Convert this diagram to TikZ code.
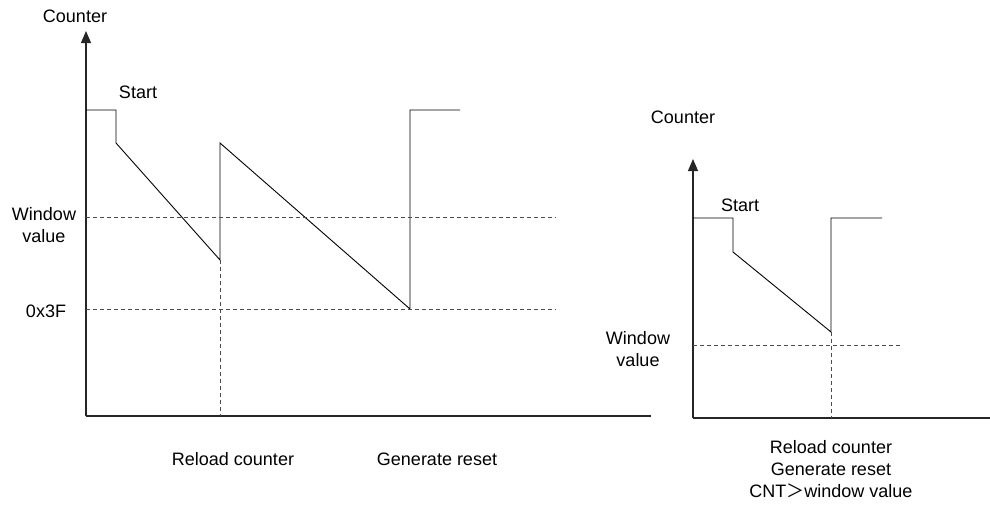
\documentclass[tikz,border=0pt]{standalone}
\usepackage{fontspec}
\setmainfont{Liberation Sans}
\newfontfamily\cjk{Noto Sans CJK SC}
\usetikzlibrary{arrows.meta}
\begin{document}
\begin{tikzpicture}[x=1pt,y=-1pt,
  lbl/.style={inner sep=0pt,font=\fontsize{18}{22}\selectfont,align=center},
  axis/.style={line width=1.1pt,black!85},
  wave/.style={line width=0.9pt,black},
  guide/.style={dashed,line width=0.8pt,black!70,dash pattern=on 4pt off 3pt}]
\useasboundingbox (0,0) rectangle (990,506);
% ---- left chart ----
\coordinate (o1) at (86,416);
\coordinate (t1) at (86,31);
\coordinate (e1) at (651,416);
\draw[axis,-{Triangle[width=10pt,length=12pt]}] (o1) -- (t1);
\draw[axis] (o1) -- (e1);
\coordinate (a1) at (86,110);
\coordinate (a2) at (116,110);
\coordinate (a3) at (116,143);
\coordinate (a4) at (220,260);
\coordinate (a5) at (220,143);
\coordinate (a6) at (410,309);
\coordinate (a7) at (410,110);
\coordinate (a8) at (460,110);
\draw[wave] (a1) -- (a2) -- (a3) -- (a4) -- (a5) -- (a6) -- (a7) -- (a8);
\coordinate (w1) at (86,217);
\coordinate (w2) at (556,217);
\coordinate (f1) at (86,309);
\coordinate (f2) at (556,309);
\coordinate (r1) at (220,416);
\draw[guide] (w1) -- (w2);
\draw[guide] (f1) -- (f2);
\draw[guide] (a4) -- (r1);
\node[lbl] (c1) at (75,16) {Counter};
\node[lbl] (s1) at (138,92) {Start};
\node[lbl] (wv1) at (44,225) {Window\\value};
\node[lbl] (h1) at (46,311) {0x3F};
\node[lbl] (rl1) at (233,459) {Reload counter};
\node[lbl] (gr1) at (437,459) {Generate reset};
% ---- right chart ----
\coordinate (o2) at (693,418);
\coordinate (t2) at (693,159);
\coordinate (e2) at (990,418);
\draw[axis,-{Triangle[width=10pt,length=12pt]}] (o2) -- (t2);
\draw[axis] (o2) -- (e2);
\coordinate (b1) at (693,218);
\coordinate (b2) at (733,218);
\coordinate (b3) at (733,252);
\coordinate (b4) at (831,332);
\coordinate (b5) at (831,218);
\coordinate (b6) at (882,218);
\draw[wave] (b1) -- (b2) -- (b3) -- (b4) -- (b5) -- (b6);
\coordinate (v1) at (693,345);
\coordinate (v2) at (900,345);
\coordinate (r2) at (831,418);
\draw[guide] (v1) -- (v2);
\draw[guide] (b4) -- (r2);
\node[lbl] (c2) at (683,117) {Counter};
\node[lbl] (s2) at (740,205) {Start};
\node[lbl] (wv2) at (638,349) {Window\\value};
\node[lbl,font=\fontsize{18}{22}\selectfont] (rl2) at (831,469) {Reload counter\\Generate reset\\CNT{\cjk ＞}window value};
\end{tikzpicture}
\end{document}
